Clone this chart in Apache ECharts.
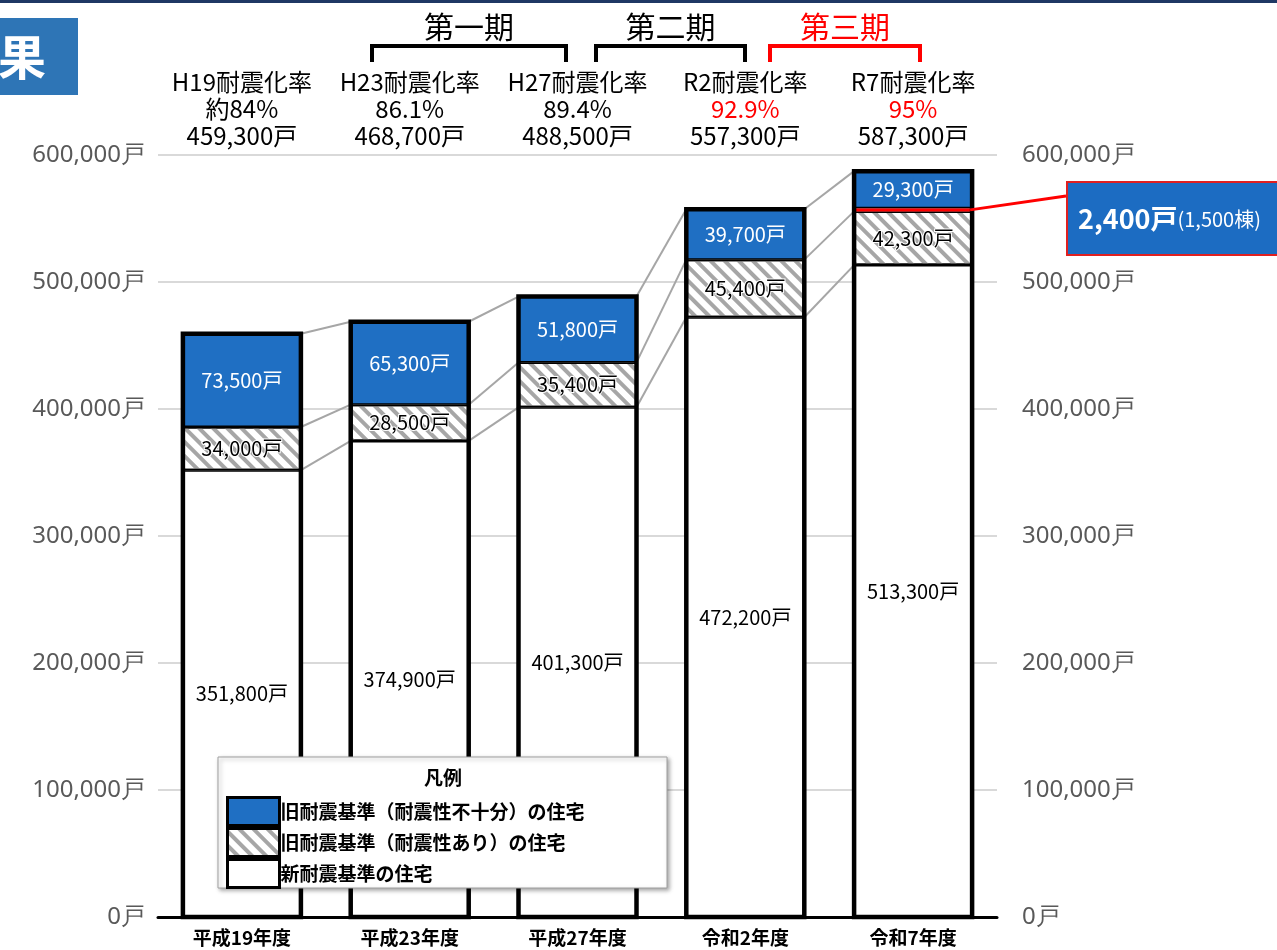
<!DOCTYPE html>
<html><head><meta charset="utf-8">
<script src="https://cdn.jsdelivr.net/npm/echarts@6/dist/echarts.min.js"></script>
<style>html,body{margin:0;padding:0;background:#fff}#c{width:1277px;height:950px}</style>
</head><body><div id="c"></div>
<script>
// ---- data ----
const categories = ['平成19年度','平成23年度','平成27年度','令和2年度','令和7年度'];
const rateNames = ['H19耐震化率','H23耐震化率','H27耐震化率','R2耐震化率','R7耐震化率'];
const rates = ['約84%','86.1%','89.4%','92.9%','95%'];
const rateHighlight = [false,false,false,true,true];
const newStd = [351800,374900,401300,472200,513300];     // 新耐震基準の住宅
const oldSafe = [34000,28500,35400,45400,42300];         // 旧耐震基準（耐震性あり）
const oldTarget = [null,null,null,null,2400];            // 2,400戸 (1,500棟)
const oldUnsafe = [73500,65300,51800,39700,29300];       // 旧耐震基準（耐震性不十分）
const periodNames = ['第一期','第二期','第三期'];
const seriesNames = ['旧耐震基準（耐震性不十分）の住宅','旧耐震基準（耐震性あり）の住宅','新耐震基準の住宅'];
const calloutMain = '2,400戸';
const calloutSub = '(1,500棟)';

const totals = categories.map((c,i)=> newStd[i]+oldSafe[i]+(oldTarget[i]||0)+oldUnsafe[i]);
const fmt = v => v.toLocaleString('en-US');
const FONT = '"Noto Sans CJK JP", "Noto Sans", sans-serif';
const BAR_W = 118;
const BLUE = '#1f6fc3';

const connData = categories.slice(0,-1).map((c,i)=>[
  i, newStd[i], newStd[i]+oldSafe[i], totals[i],
  newStd[i+1], newStd[i+1]+oldSafe[i+1], totals[i+1]
]);
const outlineData = categories.map((c,i)=>[i, totals[i]]);

const chart = echarts.init(document.getElementById('c'));
const valLabel = (color, size) => ({
  show: true, position: 'inside', color: color, fontSize: size, fontFamily: FONT,
  formatter: p => fmt(p.value) + '戸'
});

const option = {
  backgroundColor: '#fff',
  animation: false,
  textStyle: { fontFamily: FONT },
  grid: { left: 158, right: 280, top: 155, bottom: 33 },
  xAxis: [
    { type: 'category', data: categories, position: 'bottom',
      axisLine: { lineStyle: { color: '#000', width: 3 } },
      axisTick: { show: false },
      axisLabel: { color: '#000', fontSize: 19, fontWeight: 'bold', margin: 11, fontFamily: FONT } },
    { type: 'category', data: categories, position: 'top',
      axisLine: { show: false }, axisTick: { show: false },
      axisLabel: { margin: 6, interval: 0,
        formatter: (v, idx) => `{t|${rateNames[idx]}}\n{${rateHighlight[idx]?'r':'t'}|${rates[idx]}}\n{t|${fmt(totals[idx])}戸}`,
        rich: {
          t: { fontSize: 24, lineHeight: 27, color: '#000', fontFamily: FONT },
          r: { fontSize: 24, lineHeight: 27, color: '#ff0000', fontFamily: FONT }
        } } }
  ],
  yAxis: [
    { type: 'value', min: 0, max: 600000, interval: 100000, position: 'left',
      axisLine: { show: false }, axisTick: { show: false },
      splitLine: { lineStyle: { color: '#d9d9d9', width: 2 } },
      axisLabel: { color: '#595959', fontSize: 24, margin: 13, fontFamily: '"Noto Sans", sans-serif',
        formatter: v => fmt(v) + '戸' } },
    { type: 'value', min: 0, max: 600000, interval: 100000, position: 'right',
      axisLine: { show: false }, axisTick: { show: false }, splitLine: { show: false },
      axisLabel: { color: '#595959', fontSize: 24, margin: 25, fontFamily: '"Noto Sans", sans-serif',
        formatter: v => fmt(v) + '戸' } }
  ],
  legend: {
    data: seriesNames, orient: 'vertical', left: 226, top: 796, padding: 0,
    itemWidth: 52, itemHeight: 28, itemGap: 0, icon: 'rect', selectedMode: false, z: 10,
    itemStyle: { borderColor: '#000', borderWidth: 3 },
    textStyle: { fontSize: 19, fontWeight: 'bold', color: '#000', fontFamily: FONT, padding: [0,0,0,-4] }
  },
  series: [
    { name: seriesNames[2], type: 'bar', stack: 'a', barWidth: BAR_W, data: newStd,
      itemStyle: { color: '#fff', borderColor: '#000', borderWidth: 1.5 },
      label: valLabel('#000', 20) },
    { name: seriesNames[1], type: 'bar', stack: 'a', barWidth: BAR_W, data: oldSafe,
      itemStyle: { color: '#fff', borderColor: '#000', borderWidth: 1.5,
        decal: { symbol: 'rect', symbolSize: 1, color: '#a6a6a6', dashArrayX: [1, 0], dashArrayY: [4, 6], rotation: Math.PI / 4 } },
      label: Object.assign(valLabel('#000', 20), { textBorderColor: '#fff', textBorderWidth: 2 }) },
    { name: 'target', type: 'bar', stack: 'a', barWidth: BAR_W, data: oldTarget,
      itemStyle: { color: '#ff0000', borderWidth: 0 }, label: { show: false } },
    { name: seriesNames[0], type: 'bar', stack: 'a', barWidth: BAR_W, data: oldUnsafe,
      itemStyle: { color: BLUE, borderColor: '#000', borderWidth: 1.5 },
      label: valLabel('#fff', 20) },
    { name: 'outline', type: 'custom', data: outlineData, encode: { x: 0, y: 1 }, z: 3, silent: true,
      renderItem: (params, api) => {
        const top = api.coord([api.value(0), api.value(1)]);
        const base = api.coord([api.value(0), 0]);
        return { type: 'rect',
          shape: { x: top[0] - BAR_W / 2, y: top[1], width: BAR_W, height: base[1] - top[1] },
          style: { fill: null, stroke: '#000', lineWidth: 4.5 } };
      } },
    { name: 'connectors', type: 'custom', data: connData, encode: { x: 0, y: 1 }, z: 1, silent: true,
      renderItem: (params, api) => {
        const i = api.value(0);
        const children = [];
        for (let k = 1; k <= 3; k++) {
          const a = api.coord([i, api.value(k)]);
          const b = api.coord([i + 1, api.value(k + 3)]);
          children.push({ type: 'line',
            shape: { x1: a[0] + BAR_W / 2, y1: a[1], x2: b[0] - BAR_W / 2, y2: b[1] },
            style: { stroke: '#a6a6a6', lineWidth: 2 } });
        }
        return { type: 'group', children };
      } }
  ]
};
chart.setOption(option);

// annotations
const tgtVal = newStd[4] + oldSafe[4] + oldTarget[4] / 2;
const p = chart.convertToPixel({ xAxisIndex: 0, yAxisIndex: 0 }, [4, tgtVal]);
const brackets = [[372, 566, '#000'], [596, 745, '#000'], [770, 920, '#ff0000']];
const graphics = [
  { type: 'rect', shape: { x: 0, y: 0, width: 1277, height: 3 }, style: { fill: '#1f3864' }, z: 20 },
  { type: 'rect', shape: { x: 0, y: 18, width: 78, height: 77 }, style: { fill: '#2e75b6' }, z: 20 },
  { type: 'text', x: 22, y: 57, style: { text: '果', fill: '#fff', fontSize: 48, fontWeight: 'bold', fontFamily: FONT, align: 'center', verticalAlign: 'middle' }, z: 21 },
  // legend box
  { type: 'rect', shape: { x: 218, y: 757, width: 449, height: 131 },
    style: { fill: '#fff', stroke: '#a0a0a0', lineWidth: 1, shadowBlur: 4, shadowColor: 'rgba(0,0,0,0.35)', shadowOffsetX: 2, shadowOffsetY: 2 }, z: 8 },
  { type: 'text', x: 443, y: 778, style: { text: '凡例', fill: '#000', fontSize: 19, fontWeight: 'bold', fontFamily: FONT, align: 'center', verticalAlign: 'middle' }, z: 11 },
  // callout
  { type: 'line', shape: { x1: p[0] + BAR_W / 2 - 2, y1: p[1], x2: 1066, y2: 196 }, style: { stroke: '#ff0000', lineWidth: 3 }, z: 20 },
  { type: 'rect', shape: { x: 1067, y: 182, width: 230, height: 73 }, style: { fill: '#1c6cc2', stroke: '#e02020', lineWidth: 2 }, z: 20 },
  { type: 'text', x: 1078, y: 219, z: 21,
    style: { text: `{a|${calloutMain}}{b|${calloutSub}}`, verticalAlign: 'middle',
      rich: { a: { fill: '#fff', fontSize: 27, fontWeight: 'bold', fontFamily: FONT },
              b: { fill: '#fff', fontSize: 20, fontFamily: FONT } } } }
];
brackets.forEach((b, i) => {
  graphics.push({ type: 'polyline', shape: { points: [[b[0], 62], [b[0], 46], [b[1], 46], [b[1], 62]] },
    style: { stroke: b[2], lineWidth: 4, fill: null }, z: 20 });
  graphics.push({ type: 'text', x: (b[0] + b[1]) / 2, y: 27, z: 20,
    style: { text: periodNames[i], fill: b[2], fontSize: 30, fontFamily: FONT, align: 'center', verticalAlign: 'middle' } });
});
chart.setOption({ graphic: graphics });
</script>
</body></html>
